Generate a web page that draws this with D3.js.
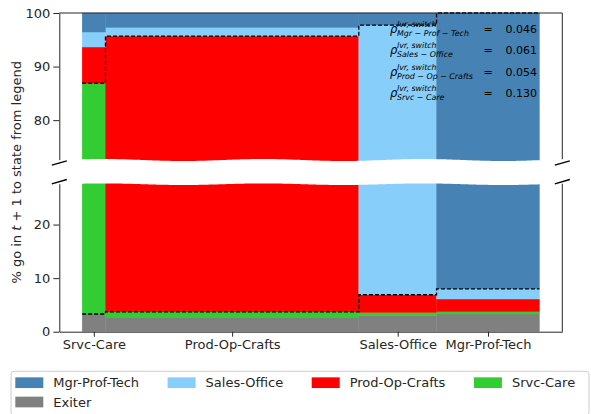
<!DOCTYPE html>
<html>
<head>
<meta charset="utf-8">
<script src="https://cdn.jsdelivr.net/npm/d3@7"></script>
<style>
    body { margin: 0; background: #fff; }
    svg { display: block; font-family: "DejaVu Sans", sans-serif; }
</style>
</head>
<body>
<div id="chart"></div>
<script>
// origin state at t (one column each) and the width share of each column
var columns = ['Srvc-Care', 'Prod-Op-Crafts', 'Sales-Office', 'Mgr-Prof-Tech'];
var shares = [5.1, 55.4, 17.0, 22.5];

// destination state at t + 1, stacked bottom -> top, % of each column
var states = ['Exiter', 'Srvc-Care', 'Prod-Op-Crafts', 'Sales-Office', 'Mgr-Prof-Tech'];
var exiter       = [3.3, 2.7, 3.05, 3.3];
var srvcCare     = [83.6, 1.0, 0.55, 0.45];
var prodOpCrafts = [6.75, 92.0, 3.3, 2.35];
var salesOffice  = [2.8, 1.6, 90.85, 1.9];
var mgrProfTech  = [3.55, 2.7, 2.25, 92.0];

var yTicksTop = [80, 90, 100];
var yTicksBottom = [0, 10, 20];

var legendRows = [
    ['Mgr-Prof-Tech', 'Sales-Office', 'Prod-Op-Crafts', 'Srvc-Care'],
    ['Exiter']
];

var rhoNames = ['Mgr \u2212 Prof \u2212 Tech', 'Sales \u2212 Office', 'Prod \u2212 Op \u2212 Crafts', 'Srvc \u2212 Care'];
var rhoValues = ['0.046', '0.061', '0.054', '0.130'];

(function (d3) {
    'use strict';

    var W = 591, H = 414,
        left = 59.3, right = 562.3,
        top = 13, bottom = 331.7,
        cutTop = 163, cutBottom = 181.7,
        ink = '#262626',
        font = 13;

    var colors = {
        'Exiter': '#808080',
        'Srvc-Care': '#32cd32',
        'Prod-Op-Crafts': '#ff0000',
        'Sales-Office': '#87cefa',
        'Mgr-Prof-Tech': '#4682b4'
    };

    var series = {
        'Exiter': exiter,
        'Srvc-Care': srvcCare,
        'Prod-Op-Crafts': prodOpCrafts,
        'Sales-Office': salesOffice,
        'Mgr-Prof-Tech': mgrProfTech
    };

    /**
     * column edges from the shares, one row per column for d3.stack
     */
    var edges = [0].concat(Array.from(d3.cumsum(shares)));
    var rows = columns.map(function (c, i) {
        var r = { name: c, x0: edges[i], x1: edges[i + 1] };
        states.forEach(function (s) { r[s] = series[s][i]; });
        return r;
    });
    var stacked = d3.stack().keys(states)(rows);

    // the diagonal cell (stay in the same state) of every column
    var lowerPts = [], upperPts = [];
    rows.forEach(function (r, i) {
        var cell = stacked[states.indexOf(r.name)][i];
        lowerPts.push([r.x0, cell[0]], [r.x1, cell[0]]);
        upperPts.push([r.x0, cell[1]], [r.x1, cell[1]]);
    });

    var x = d3.scaleLinear().domain([-5, 105]).range([left, right]);

    var panels = [
        { id: 'top', y: d3.scaleLinear().domain([72, 100]).range([cutTop, top]), ticks: yTicksTop },
        { id: 'bottom', y: d3.scaleLinear().domain([0, 28]).range([bottom, cutBottom]), ticks: yTicksBottom }
    ];

    var svg = d3.select('#chart').append('svg')
        .attr('width', W)
        .attr('height', H);

    var defs = svg.append('defs');

    panels.forEach(function (p) {
        var r = p.y.range();
        defs.append('clipPath').attr('id', 'clip-' + p.id)
            .append('rect')
            .attr('x', left)
            .attr('y', r[1] - 2)
            .attr('width', right - left)
            .attr('height', r[0] - r[1] + 2);

        var g = svg.append('g').attr('clip-path', 'url(#clip-' + p.id + ')');

        g.selectAll('g.layer')
            .data(stacked)
            .enter()
            .append('g')
            .attr('class', 'layer')
            .attr('fill', function (d) { return colors[d.key]; })
            .attr('stroke', function (d) { return colors[d.key]; })
            .attr('stroke-width', 0.4)
            .selectAll('rect')
            .data(function (d) { return d; })
            .enter()
            .append('rect')
            .attr('x', function (d) { return x(d.data.x0); })
            .attr('width', function (d) { return x(d.data.x1) - x(d.data.x0); })
            .attr('y', function (d) { return p.y(d[1]); })
            .attr('height', function (d) { return p.y(d[0]) - p.y(d[1]); });

        var line = d3.line()
            .x(function (d) { return x(d[0]); })
            .y(function (d) { return p.y(d[1]); });

        [lowerPts, upperPts].forEach(function (pts) {
            g.append('path')
                .attr('d', line(pts))
                .attr('fill', 'none')
                .attr('stroke', '#000')
                .attr('stroke-width', 1.3)
                .attr('stroke-dasharray', '4,2');
        });

        // y axis (its domain line is the left spine)
        var ax = svg.append('g')
            .attr('transform', 'translate(' + left + ',0)')
            .call(d3.axisLeft(p.y).tickValues(p.ticks).tickSize(6).tickPadding(3).tickSizeOuter(0));
        ax.attr('font-size', font).attr('font-family', null).attr('color', ink);

        // right spine
        svg.append('line')
            .attr('x1', right).attr('x2', right)
            .attr('y1', r[0]).attr('y2', r[1])
            .attr('stroke', ink);
    });

    // top spine
    svg.append('line')
        .attr('x1', left).attr('x2', right)
        .attr('y1', top).attr('y2', top)
        .attr('stroke', ink);

    // x axis, ticks at column centres
    var centers = rows.map(function (r) { return (r.x0 + r.x1) / 2; });
    var xa = svg.append('g')
        .attr('transform', 'translate(0,' + bottom + ')')
        .call(d3.axisBottom(x).tickValues(centers)
            .tickFormat(function (d, i) { return columns[i]; })
            .tickSize(5).tickPadding(3.5).tickSizeOuter(0));
    xa.attr('font-size', font).attr('font-family', null).attr('color', ink);

    /**
     * wavy white band over the cut between the two panels
     */
    var waveX = d3.range(left - 4, right + 6, 2);
    var wave = function (v) { return Math.sin(2 * Math.PI * (v - 143) / 160); };
    svg.append('path')
        .attr('d', d3.area()
            .x(function (d) { return d; })
            .y0(function (d) { return 160 + wave(d); })
            .y1(function (d) { return 184.2 + 0.8 * wave(d); })(waveX))
        .attr('fill', '#fff');

    // break marks on both spines
    [left, right].forEach(function (sx) {
        [cutTop, cutBottom].forEach(function (sy) {
            svg.append('line')
                .attr('x1', sx - 7.5).attr('y1', sy + 2.2)
                .attr('x2', sx + 7.5).attr('y2', sy - 2.2)
                .attr('stroke', '#000')
                .attr('stroke-width', 1.4);
        });
    });

    // y label
    var yl = svg.append('text')
        .attr('transform', 'translate(21,' + ((top + bottom) / 2) + ') rotate(-90)')
        .attr('text-anchor', 'middle')
        .attr('font-size', font)
        .attr('fill', ink);
    yl.append('tspan').text('% go in ');
    yl.append('tspan').attr('font-style', 'italic').text('t');
    yl.append('tspan').text(' + 1 to state from legend');

    /**
     * rho annotations
     */
    var ann = svg.append('g').attr('fill', '#000');
    rhoNames.forEach(function (name, i) {
        var yb = 32.5 + 21.5 * i;
        ann.append('text')
            .attr('x', 390).attr('y', yb)
            .attr('font-size', 11.5).attr('font-style', 'italic')
            .text('\u03c1');
        ann.append('text')
            .attr('x', 397).attr('y', yb - 6)
            .attr('font-size', 7.9).attr('font-style', 'italic')
            .text('lvr, switch');
        ann.append('text')
            .attr('x', 397).attr('y', yb + 3)
            .attr('font-size', 7.9).attr('font-style', 'italic')
            .text(name);
        ann.append('text')
            .attr('x', 488).attr('y', yb)
            .attr('text-anchor', 'middle')
            .attr('font-size', 11)
            .text('=');
        ann.append('text')
            .attr('x', 537).attr('y', yb)
            .attr('text-anchor', 'end')
            .attr('font-size', 11)
            .text(rhoValues[i]);
    });

    /**
     * legend
     */
    var lg = svg.append('g');
    lg.append('rect')
        .attr('x', 11).attr('y', 371.3)
        .attr('width', 578).attr('height', 44)
        .attr('rx', 3)
        .attr('fill', '#fff')
        .attr('stroke', '#cccccc');

    var rowY = [382.7, 402],
        patchW = 28, patchH = 10.7, textGap = 10, colGap = 28.5,
        colX = 15.3;

    for (var c = 0; c < legendRows[0].length; c++) {
        var widest = 0;
        for (var r = 0; r < legendRows.length; r++) {
            var label = legendRows[r][c];
            if (!label) continue;
            lg.append('rect')
                .attr('x', colX).attr('y', rowY[r] - patchH / 2)
                .attr('width', patchW).attr('height', patchH)
                .attr('fill', colors[label]);
            var t = lg.append('text')
                .attr('x', colX + patchW + textGap).attr('y', rowY[r])
                .attr('dy', '0.35em')
                .attr('font-size', font)
                .attr('fill', ink)
                .text(label);
            widest = Math.max(widest, t.node().getComputedTextLength());
        }
        colX += patchW + textGap + widest + colGap;
    }

})(d3);
</script>
</body>
</html>
